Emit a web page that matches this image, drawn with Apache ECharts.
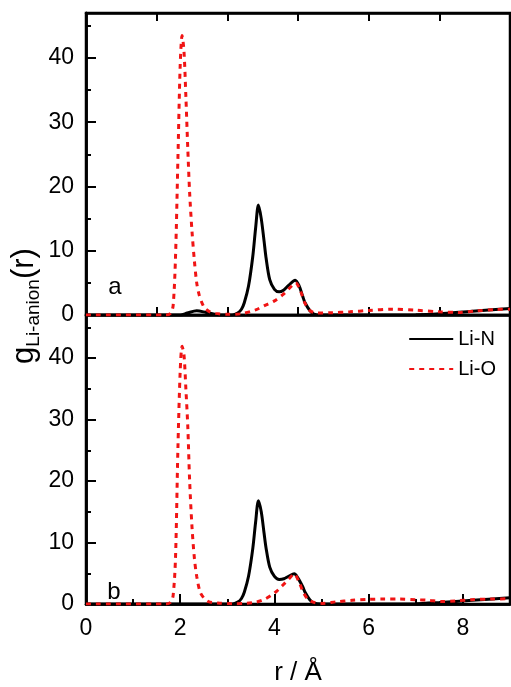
<!DOCTYPE html>
<html lang="en">
<head>
    <meta charset="UTF-8">
    <title>g Li-anion</title>
    <script src="https://cdn.jsdelivr.net/npm/echarts@6.0.0/dist/echarts.min.js"></script>
</head>
<body style="margin:0">
<div id="container" style="width:511px;height:687px"></div>

<script type="text/javascript">
    // panel a
    var rLiN_a = [0, 2.0, 2.15, 2.35, 2.55, 2.8, 3.1, 3.22, 3.3, 3.36, 3.45, 3.54, 3.6, 3.66, 3.72, 3.78, 3.82, 3.9, 4.0, 4.1, 4.2, 4.3, 4.44, 4.52, 4.6, 4.65, 4.75, 4.84, 5.0, 7.0, 7.5, 8.2, 9.0];
    var gLiN_a = [0, 0, 0.3, 0.65, 0.4, 0.05, 0, 0.3, 0.9, 1.9, 4.5, 9.1, 13.5, 17.1, 15, 11.5, 9, 5.5, 4.0, 3.6, 3.9, 4.6, 5.4, 4.6, 2.9, 1.9, 0.7, 0.15, 0, 0.05, 0.2, 0.6, 1.0];
    var rLiO_a = [0, 1.7, 1.8, 1.85, 1.9, 1.95, 2.0, 2.04, 2.08, 2.12, 2.16, 2.2, 2.25, 2.3, 2.35, 2.4, 2.5, 2.6, 2.75, 3.0, 3.3, 3.6, 3.8, 4.0, 4.2, 4.35, 4.45, 4.55, 4.65, 4.75, 4.9, 5.2, 5.6, 6.0, 6.5, 7.0, 7.5, 7.9, 8.3, 8.7, 9.0];
    var gLiO_a = [0, 0, 0.3, 1.5, 9, 24, 39, 43.5, 41, 34, 26, 19, 13, 8.5, 5, 3.2, 1.3, 0.6, 0.25, 0.1, 0.2, 0.8, 1.5, 2.2, 3.3, 4.4, 5.0, 3.8, 1.8, 0.7, 0.3, 0.35, 0.5, 0.7, 0.9, 0.75, 0.5, 0.4, 0.65, 0.85, 0.9];

    // panel b
    var rLiN_b = [0, 3.1, 3.22, 3.3, 3.36, 3.45, 3.54, 3.6, 3.66, 3.72, 3.78, 3.82, 3.9, 4.0, 4.1, 4.2, 4.3, 4.42, 4.5, 4.6, 4.65, 4.75, 4.84, 5.0, 7.0, 7.5, 8.2, 9.0];
    var gLiN_b = [0, 0, 0.3, 0.9, 1.9, 4.5, 9, 13.3, 16.8, 15, 11.5, 9.2, 6, 4.5, 4.0, 4.1, 4.5, 4.9, 4.2, 2.8, 1.9, 0.7, 0.15, 0, 0.05, 0.25, 0.6, 1.0];
    var rLiO_b = [0, 1.7, 1.8, 1.85, 1.9, 1.95, 2.0, 2.04, 2.08, 2.12, 2.16, 2.2, 2.25, 2.3, 2.35, 2.42, 2.5, 2.6, 2.8, 3.1, 3.4, 3.61, 3.8, 3.93, 4.05, 4.17, 4.3, 4.42, 4.52, 4.62, 4.72, 4.85, 5.02, 5.3, 5.65, 6.0, 6.3, 6.65, 7.0, 7.27, 7.55, 7.85, 8.18, 8.6, 9.0];
    var gLiO_b = [0, 0, 0.3, 1.4, 7.5, 25, 38, 41.9, 40.5, 35, 29, 20, 12.5, 7.5, 4.5, 2.0, 1.0, 0.4, 0.15, 0.05, 0.1, 0.3, 0.8, 1.4, 2.1, 3.0, 4.0, 4.9, 3.6, 1.8, 0.7, 0.25, 0.1, 0.35, 0.6, 0.75, 0.8, 0.8, 0.7, 0.6, 0.4, 0.5, 0.7, 0.8, 0.85];

    var yLabels = ['0', '10', '20', '30', '40'];
    var xLabels = ['0', '2', '4', '6', '8'];

    function pairs(r, g) {
        return r.map(function (v, i) { return [v, g[i]]; });
    }

    var font = 'Liberation Sans, Arial, sans-serif';
    var red = '#f01414';

    var dom = document.getElementById('container');
    var myChart = echarts.init(dom, null, {renderer: 'canvas'});

    function xAx(grid, pos, interval, len, labels) {
        return {
            type: 'value', gridIndex: grid, position: pos, min: 0, max: 9, interval: interval,
            axisLine: {show: true, onZero: false, lineStyle: {color: '#000', width: 2.5}},
            axisTick: {show: true, inside: true, length: len, lineStyle: {color: '#000', width: 2}},
            axisLabel: {
                show: labels, fontSize: 23, color: '#000', fontFamily: font, margin: 13,
                showMaxLabel: false,
                formatter: function (v) { return xLabels.indexOf(String(v)) >= 0 ? String(v) : ''; }
            },
            splitLine: {show: false}
        };
    }
    function yAx(grid, interval, len, labels) {
        return {
            type: 'value', gridIndex: grid, position: 'left', min: 0, max: 47, interval: interval,
            axisLine: {show: true, lineStyle: {color: '#000', width: 2.5}},
            axisTick: {show: true, inside: true, length: len, lineStyle: {color: '#000', width: 2}},
            axisLabel: {
                show: labels, fontSize: 23, color: '#000', fontFamily: font, margin: 12,
                showMaxLabel: false,
                formatter: function (v) { return yLabels.indexOf(String(v)) >= 0 ? String(v) : ''; }
            },
            splitLine: {show: false}
        };
    }

    var xs = [
        xAx(0, 'bottom', 1.5, 8, false),
        xAx(0, 'top', 1.5, 8, false),
        xAx(1, 'bottom', 2, 10, true),
        xAx(1, 'bottom', 1, 5, false)
    ];
    xs[2].name = 'r / \u00C5';
    xs[2].nameLocation = 'middle';
    xs[2].nameGap = 56;
    xs[2].nameTextStyle = {fontSize: 26, color: '#000', fontFamily: font};

    function line(name, xi, yi, data, color, dashed) {
        return {
            name: name, type: 'line', xAxisIndex: xi, yAxisIndex: yi,
            data: data, symbol: 'none', smooth: 0.3,
            lineStyle: {color: color, width: 3, type: dashed ? [5, 5] : 'solid'},
            itemStyle: {color: color}
        };
    }

    var option = {
        animation: false,
        backgroundColor: '#fff',
        grid: [
            {left: 86, right: 1, top: 13, height: 302, show: true, borderColor: '#000', borderWidth: 2.5},
            {left: 86, right: 1, top: 315, height: 301, show: true, borderColor: '#000', borderWidth: 2.5}
        ],
        xAxis: xs,
        yAxis: [yAx(0, 10, 10, true), yAx(0, 5, 5, false), yAx(1, 10, 10, true), yAx(1, 5, 5, false)],
        legend: {
            data: ['Li-N', 'Li-O'],
            orient: 'vertical', right: 10, top: 324,
            itemWidth: 44, itemHeight: 14, itemGap: 10,
            itemStyle: {opacity: 0},
            textStyle: {fontSize: 20, color: '#000', fontFamily: font}
        },
        graphic: [
            {type: 'text', x: 115, y: 287, style: {text: 'a', fontSize: 24, fontFamily: font, fill: '#000', align: 'center', verticalAlign: 'middle'}},
            {type: 'text', x: 114, y: 592, style: {text: 'b', fontSize: 24, fontFamily: font, fill: '#000', align: 'center', verticalAlign: 'middle'}},
            {
                type: 'text', x: 24, y: 306, rotation: Math.PI / 2,
                style: {
                    text: '{m|g}{s|Li-anion}{m|(r)}',
                    align: 'center', verticalAlign: 'middle',
                    rich: {
                        m: {fontSize: 31, fontFamily: font, fill: '#000', lineHeight: 38},
                        s: {fontSize: 19, fontFamily: font, fill: '#000', lineHeight: 18, verticalAlign: 'bottom'}
                    }
                }
            }
        ],
        series: [
            line('Li-N', 0, 0, pairs(rLiN_a, gLiN_a), '#000', false),
            line('Li-O', 0, 0, pairs(rLiO_a, gLiO_a), red, true),
            line('Li-N', 2, 2, pairs(rLiN_b, gLiN_b), '#000', false),
            line('Li-O', 2, 2, pairs(rLiO_b, gLiO_b), red, true)
        ]
    };

    myChart.setOption(option);
    window.addEventListener('resize', myChart.resize);
</script>
</body>
</html>
